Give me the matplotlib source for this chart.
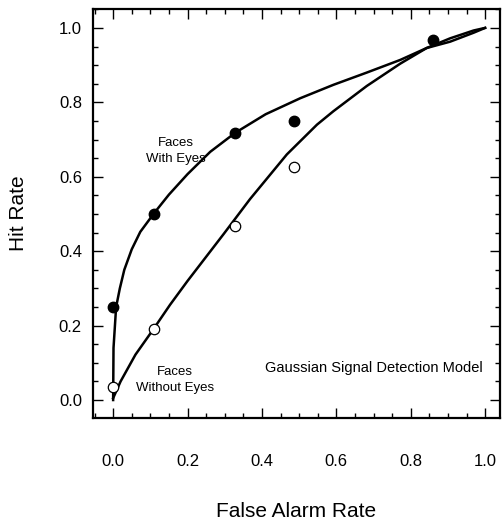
import matplotlib.pyplot as plt
from matplotlib.ticker import MultipleLocator

plt.rcParams['font.family'] = ['Liberation Sans', 'DejaVu Sans']

# --- Data ---
# Observed points (false alarm rate, hit rate)
eyes_fa = [0.000, 0.110, 0.328, 0.485, 0.859]
eyes_hit = [0.251, 0.500, 0.718, 0.750, 0.968]
noeyes_fa = [0.000, 0.110, 0.328, 0.485]
noeyes_hit = [0.034, 0.190, 0.469, 0.626]

# Model curves
eyes_curve_fa = [0.000, 0.001, 0.008, 0.018, 0.030, 0.050, 0.073, 0.110, 0.150,
                 0.200, 0.261, 0.328, 0.410, 0.503, 0.592, 0.682, 0.772, 0.843,
                 0.906, 0.969, 1.000]
eyes_curve_hit = [0.000, 0.140, 0.250, 0.300, 0.350, 0.405, 0.452, 0.502, 0.552,
                  0.607, 0.667, 0.718, 0.768, 0.811, 0.847, 0.880, 0.914, 0.946,
                  0.963, 0.987, 1.000]
noeyes_curve_fa = [0.000, 0.020, 0.060, 0.108, 0.153, 0.200, 0.297, 0.368, 0.467,
                   0.548, 0.592, 0.682, 0.772, 0.843, 0.906, 0.969, 1.000]
noeyes_curve_hit = [0.005, 0.050, 0.122, 0.190, 0.256, 0.320, 0.446, 0.540, 0.660,
                    0.740, 0.776, 0.844, 0.904, 0.946, 0.972, 0.993, 1.000]

tick_vals = [0.0, 0.2, 0.4, 0.6, 0.8, 1.0]
tick_labels = ["0.0", "0.2", "0.4", "0.6", "0.8", "1.0"]

fig = plt.figure(figsize=(5.03, 5.25), dpi=100)
ax = fig.add_axes([0.185, 0.204, 0.809, 0.779])

# curves
ax.plot(eyes_curve_fa, eyes_curve_hit, color='black', linewidth=1.8, zorder=2)
ax.plot(noeyes_curve_fa, noeyes_curve_hit, color='black', linewidth=1.8, zorder=2)

# data points
ax.plot(eyes_fa, eyes_hit, 'o', color='black', markersize=7.5, zorder=3)
ax.plot(noeyes_fa, noeyes_hit, 'o', markerfacecolor='white', markeredgecolor='black',
        markeredgewidth=0.9, markersize=7.5, zorder=3)

# annotations
ax.text(0.17, 0.67, "Faces\nWith Eyes", ha='center', va='center', fontsize=9.5, linespacing=1.4)
ax.text(0.167, 0.054, "Faces\nWithout Eyes", ha='center', va='center', fontsize=9.5, linespacing=1.4)
ax.text(0.70, 0.086, "Gaussian Signal Detection Model", ha='center', va='center', fontsize=10.5)

ax.set_xlim(-0.054, 1.040)
ax.set_ylim(-0.048, 1.051)

ax.set_xticks(tick_vals)
ax.set_xticklabels(tick_labels)
ax.set_yticks(tick_vals)
ax.set_yticklabels(tick_labels)
ax.xaxis.set_minor_locator(MultipleLocator(0.05))
ax.yaxis.set_minor_locator(MultipleLocator(0.05))

ax.tick_params(which='both', direction='in', top=True, right=True, width=1)
ax.tick_params(which='major', length=7)
ax.tick_params(which='minor', length=3.5)
ax.tick_params(axis='x', which='major', labelsize=12, pad=26)
ax.tick_params(axis='y', which='major', labelsize=12, pad=8)

for spine in ax.spines.values():
    spine.set_linewidth(1.6)

ax.set_xlabel("False Alarm Rate", fontsize=15)
ax.set_ylabel("Hit Rate", fontsize=15)
ax.xaxis.set_label_coords(0.5, -0.205)
ax.yaxis.set_label_coords(-0.16, 0.5)

fig.savefig("out.png", dpi=100)
